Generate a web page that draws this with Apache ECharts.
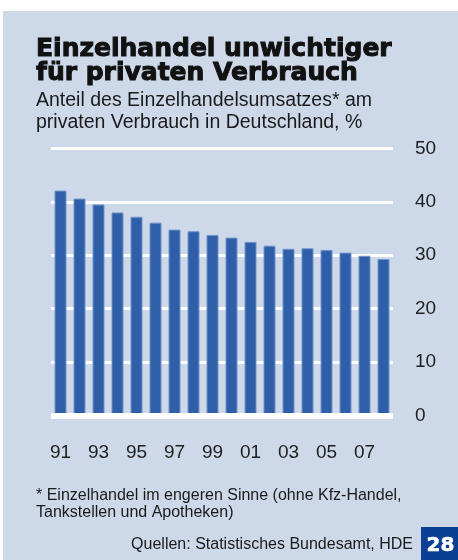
<!DOCTYPE html>
<html>
<head>
<meta charset="utf-8">
<script src="https://cdn.jsdelivr.net/npm/echarts@6/dist/echarts.min.js"></script>
<style>
html,body{margin:0;padding:0;background:#fff;}
#c{width:458px;height:560px;}
</style>
</head>
<body>
<div id="c"></div>
<script>
const years = ['91','92','93','94','95','96','97','98','99','00','01','02','03','04','05','06','07','08'];
const shares = [42.1,40.6,39.5,38.0,37.2,36.1,34.8,34.5,33.8,33.3,32.5,31.8,31.2,31.3,31.0,30.5,29.9,29.3];
const yTicks = [0,10,20,30,40,50];

const titleLines = ['Einzelhandel unwichtiger','für privaten Verbrauch'];
const subtitleLines = ['Anteil des Einzelhandelsumsatzes* am','privaten Verbrauch in Deutschland, %'];
const footnoteLines = ['* Einzelhandel im engeren Sinne (ohne Kfz-Handel,','Tankstellen und Apotheken)'];
const sourceText = 'Quellen: Statistisches Bundesamt, HDE';
const badgeText = '28';

const BG = '#cdd8e9';
const chart = echarts.init(document.getElementById('c'), null, {renderer:'canvas'});

const txt = (x, y, text, font, opts) => Object.assign({
  type:'text', x:x, y:y, silent:true,
  style: Object.assign({text:text, fill:'#1a1a1a', font:font, verticalAlign:'middle', align:'left'}, opts||{})
});

chart.setOption({
  backgroundColor:'#ffffff',
  animation:false,
  grid:{left:51, right:65, top:148.3, bottom:144.3},
  xAxis:{
    type:'category',
    data:years,
    z:10,
    axisLine:{show:true, lineStyle:{color:'#ffffff', width:6, cap:'butt'}},
    axisTick:{show:false},
    axisLabel:{interval:1, margin:28, fontSize:19, fontFamily:'Liberation Sans', color:'#1e1e1e'}
  },
  yAxis:{
    type:'value',
    position:'right',
    min:yTicks[0], max:yTicks[yTicks.length-1], interval:10,
    axisLine:{show:false}, axisTick:{show:false},
    axisLabel:{margin:22, fontSize:19, fontFamily:'Liberation Sans', color:'#1e1e1e', align:'left'},
    splitLine:{show:true, lineStyle:{color:'#ffffff', width:3, cap:'butt'}}
  },
  series:[{
    type:'bar',
    data:shares,
    barWidth:12,
    itemStyle:{color:'#2f5fa9', borderColor:'#7394cc', borderWidth:1}
  }],
  graphic:[
    {type:'rect', z:-10, silent:true, shape:{x:3, y:11, width:455, height:549}, style:{fill:BG}},
    txt(36, 49, titleLines[0], 'bold 25px "DejaVu Sans"', {fill:'#111', stroke:'#111', lineWidth:1}),
    txt(36, 73, titleLines[1], 'bold 25px "DejaVu Sans"', {fill:'#111', stroke:'#111', lineWidth:1}),
    txt(36, 100.5, subtitleLines[0], '19.5px "Liberation Sans"'),
    txt(36, 123, subtitleLines[1], '19.5px "Liberation Sans"'),
    txt(36, 495.5, footnoteLines[0], '16px "Liberation Sans"'),
    txt(36, 512.5, footnoteLines[1], '16px "Liberation Sans"'),
    txt(413, 545, sourceText, '16px "Liberation Sans"', {align:'right'}),
    {type:'rect', silent:true, shape:{x:421, y:527, width:37, height:33}, style:{fill:'#0b3f93'}},
    txt(440.5, 545.5, badgeText, 'bold 20px "DejaVu Sans"', {fill:'#ffffff', stroke:'#ffffff', lineWidth:0.6, align:'center'})
  ]
});
</script>
</body>
</html>
